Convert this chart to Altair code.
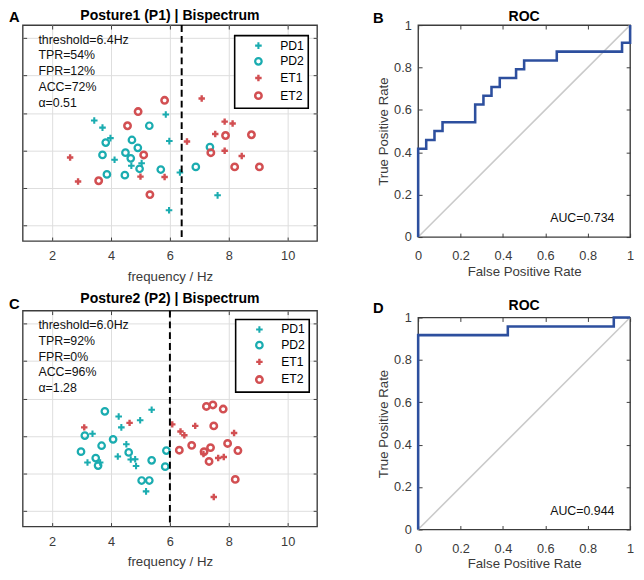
import altair as alt
import pandas as pd

FONT = "Liberation Sans"
TEAL = "#1aacb0"
RED = "#d24f52"
BLUE = "#2d4f9e"
PLUS = "M-1,0L1,0M0,-1L0,1"

groups = ["PD1", "PD2", "ET1", "ET2"]
group_colors = [TEAL, TEAL, RED, RED]
group_shapes = [PLUS, "circle", PLUS, "circle"]
group_sizes = [45, 42, 45, 42]
group_strokes = [2.1, 2.6, 2.1, 2.6]

x_ticks = [2, 4, 6, 8, 10]
y_ticks = [1, 2, 3, 4, 5, 6]
roc_ticks = [0, 0.2, 0.4, 0.6, 0.8, 1]
diag_vals = [0, 1]

# ---------- Panel A : Posture1 ----------
a_pd1_x = [3.43, 3.71, 3.98, 4.12, 4.69, 5.04, 5.86, 5.98, 6.34, 5.97, 7.62]
a_pd1_y = [3.80, 3.61, 3.33, 2.75, 2.59, 2.66, 3.96, 3.25, 2.41, 1.40, 1.80]
a_pd2_x = [5.30, 3.82, 4.71, 4.91, 3.71, 4.49, 4.67, 4.97, 5.69, 3.86, 4.47, 6.88, 7.36]
a_pd2_y = [3.66, 3.21, 3.28, 3.07, 2.88, 2.94, 2.79, 2.51, 2.49, 2.36, 2.34, 2.56, 3.09]
a_et1_x = [7.08, 2.61, 2.88, 5.00, 5.82, 6.58, 7.54, 7.86, 8.13, 7.86, 8.44]
a_et1_y = [4.39, 2.81, 2.17, 2.30, 2.29, 3.24, 3.44, 3.77, 3.72, 2.99, 2.85]
a_et2_x = [5.82, 4.92, 4.56, 5.11, 3.58, 5.32, 7.89, 7.39, 8.77, 8.20, 9.04]
a_et2_y = [4.34, 4.04, 3.66, 2.88, 2.19, 1.82, 3.40, 2.94, 3.42, 2.56, 2.56]
a_threshold = 6.4
a_stats = ["threshold=6.4Hz", "TPR=54%", "FPR=12%", "ACC=72%", "\u03b1=0.51"]

# ---------- Panel C : Posture2 ----------
c_pd1_x = [5.38, 4.26, 4.99, 4.35, 3.37, 4.52, 4.23, 4.67, 4.82, 4.85, 3.20, 3.63, 5.19]
c_pd1_y = [3.70, 3.52, 3.42, 3.23, 3.06, 2.78, 2.45, 2.37, 2.38, 2.20, 2.29, 2.29, 1.52]
c_pd2_x = [3.79, 3.11, 4.07, 3.68, 2.98, 3.48, 3.56, 4.60, 5.38, 5.88, 5.84, 5.04, 5.30]
c_pd2_y = [3.66, 3.01, 2.91, 2.74, 2.58, 2.41, 2.21, 2.56, 2.35, 2.61, 2.18, 1.81, 1.81]
c_et1_x = [3.09, 4.63, 6.08, 6.36, 6.49, 6.86, 8.18, 7.14, 7.64, 7.83, 7.49]
c_et1_y = [3.23, 3.35, 3.31, 3.12, 3.02, 3.27, 3.08, 2.52, 2.41, 2.44, 1.37]
c_et2_x = [7.24, 7.46, 7.81, 7.49, 6.74, 6.32, 7.16, 7.38, 7.96, 8.31, 7.33, 8.22]
c_et2_y = [3.79, 3.83, 3.72, 3.27, 2.75, 2.62, 2.58, 2.69, 2.80, 2.61, 2.32, 1.84]
c_threshold = 6.0
c_stats = ["threshold=6.0Hz", "TPR=92%", "FPR=0%", "ACC=96%", "\u03b1=1.28"]

# ---------- ROC curves ----------
b_fpr = [0, 0, 0.038, 0.077, 0.115, 0.269, 0.308, 0.346, 0.385, 0.462, 0.5, 0.654, 0.962, 1.0]
b_tpr = [0, 0.417, 0.458, 0.5, 0.542, 0.625, 0.667, 0.708, 0.75, 0.792, 0.833, 0.875, 0.917, 1.0]
b_auc = "AUC=0.734"
d_fpr = [0, 0, 0.423, 0.923, 1.0]
d_tpr = [0, 0.917, 0.958, 1.0, 1.0]
d_auc = "AUC=0.944"


def scatter_df(series):
    rows = []
    for g, xs, ys in series:
        for xv, yv in zip(xs, ys):
            rows.append({"group": g, "freq": xv, "jit": yv})
    return pd.DataFrame(rows)


def legend_obj(lx, ly):
    return alt.Legend(title=None, orient="none", legendX=lx, legendY=ly,
                      fillColor="white", strokeColor="black", padding=4,
                      symbolSize=45, symbolStrokeWidth=2.3, symbolOffset=14,
                      labelOffset=16, labelFont=FONT, labelFontSize=12.4,
                      labelColor="black", rowPadding=0)


def inner_axis(orient, vals):
    return alt.Axis(orient=orient, values=vals, labels=False, grid=False, title=None,
                    offset=-4, tickSize=4, minExtent=0, maxExtent=0)


def letter_layer(letter, lx, ly):
    return alt.Chart(pd.DataFrame({"t": [letter]})).mark_text(
        align="left", baseline="middle", fontSize=15, fontWeight="bold", font=FONT, color="black"
    ).encode(x=alt.value(lx), y=alt.value(ly), text="t:N")


def scatter_panel(df, thr, stats, title, letter, lx, ly, t_off, let_y):
    xs = alt.Scale(domain=[1, 11], nice=False, zero=False)
    ys = alt.Scale(domain=[0.58, 6.35], nice=False, zero=False)
    pts = alt.Chart(df).mark_point(filled=False, opacity=1).encode(
        x=alt.X("freq:Q", scale=xs,
                axis=alt.Axis(values=x_ticks, grid=True, title="frequency / Hz",
                              offset=-4, tickSize=4, labelPadding=9, titlePadding=7,
                              labelFlush=False)),
        y=alt.Y("jit:Q", scale=ys,
                axis=alt.Axis(values=y_ticks, grid=True, labels=False, title=None,
                              offset=-4, tickSize=4, minExtent=0, maxExtent=0)),
        color=alt.Color("group:N", scale=alt.Scale(domain=groups, range=group_colors),
                        legend=legend_obj(lx, ly)),
        shape=alt.Shape("group:N", scale=alt.Scale(domain=groups, range=group_shapes),
                        legend=legend_obj(lx, ly)),
        size=alt.Size("group:O", scale=alt.Scale(domain=groups, range=group_sizes),
                      legend=None),
        strokeWidth=alt.StrokeWidth("group:O", scale=alt.Scale(domain=groups, range=group_strokes),
                                    legend=None),
    )
    rule = alt.Chart(pd.DataFrame({"thr": [thr]})).mark_rule(
        color="black", strokeWidth=2, strokeDash=[7, 4]
    ).encode(x=alt.X("thr:Q", scale=xs, axis=None))
    txt = alt.Chart(pd.DataFrame({"t": ["\n".join(stats)]})).mark_text(
        align="left", baseline="top", lineBreak="\n", lineHeight=16,
        fontSize=12.6, font=FONT, color="#111111"
    ).encode(x=alt.value(16), y=alt.value(9), text="t:N")
    lab = letter_layer(letter, -14, let_y)
    ax2 = alt.Chart(df).mark_point(opacity=0).encode(
        x=alt.X("freq:Q", scale=xs, axis=inner_axis("top", x_ticks)),
        y=alt.Y("jit:Q", scale=ys, axis=inner_axis("right", y_ticks)),
    )
    return alt.layer(pts, rule, txt, lab, ax2).resolve_axis(
        x="independent", y="independent"
    ).properties(
        width=300, height=220,
        title=alt.Title(title, fontSize=14.3, fontWeight="bold", font=FONT,
                        offset=t_off, color="black", frame="group"),
    )


def roc_panel(fpr, tpr, auc, letter, let_y):
    sx = alt.Scale(domain=[0, 1], nice=False, zero=False)
    sy = alt.Scale(domain=[0, 1], nice=False, zero=False)
    df = pd.DataFrame({"fpr": fpr, "tpr": tpr, "i": list(range(len(fpr)))})
    diag = alt.Chart(pd.DataFrame({"a": diag_vals, "b": diag_vals})).mark_line(
        color="#cacaca", strokeWidth=1.6
    ).encode(x=alt.X("a:Q", scale=sx, axis=None), y=alt.Y("b:Q", scale=sy, axis=None))
    curve = alt.Chart(df).mark_line(color=BLUE, strokeWidth=2.6, interpolate="step-after").encode(
        x=alt.X("fpr:Q", scale=sx,
                axis=alt.Axis(values=roc_ticks, format="~g", grid=False,
                              title="False Positive Rate", offset=-4, tickSize=4,
                              labelPadding=13, titlePadding=2, labelFlush=False)),
        y=alt.Y("tpr:Q", scale=sy,
                axis=alt.Axis(values=roc_ticks, format="~g", grid=False,
                              title="True Positive Rate", offset=-4, tickSize=4,
                              labelPadding=7, titlePadding=3, labelFlush=False)),
        order="i:Q",
    )
    auc_t = alt.Chart(pd.DataFrame({"t": [auc]})).mark_text(
        align="right", baseline="middle", fontSize=12.6, font=FONT, color="#111111"
    ).encode(x=alt.value(200), y=alt.value(197), text="t:N")
    lab = letter_layer(letter, -46, let_y)
    ax2 = alt.Chart(df).mark_point(opacity=0).encode(
        x=alt.X("fpr:Q", scale=sx, axis=inner_axis("top", roc_ticks)),
        y=alt.Y("tpr:Q", scale=sy, axis=inner_axis("right", roc_ticks)),
    )
    return alt.layer(diag, curve, auc_t, lab, ax2).resolve_axis(
        x="independent", y="independent"
    ).properties(
        width=216, height=216,
        title=alt.Title("ROC", fontSize=14.3, fontWeight="bold", font=FONT,
                        offset=-13, color="black", frame="group"),
    )


df_a = scatter_df([("PD1", a_pd1_x, a_pd1_y), ("PD2", a_pd2_x, a_pd2_y),
                   ("ET1", a_et1_x, a_et1_y), ("ET2", a_et2_x, a_et2_y)])
df_c = scatter_df([("PD1", c_pd1_x, c_pd1_y), ("PD2", c_pd2_x, c_pd2_y),
                   ("ET1", c_et1_x, c_et1_y), ("ET2", c_et2_x, c_et2_y)])

panel_a = scatter_panel(df_a, a_threshold, a_stats, "Posture1 (P1) | Bispectrum", "A",
                        216, 10.7, -13, -8)
panel_c = scatter_panel(df_c, c_threshold, c_stats, "Posture2 (P2) | Bispectrum", "C",
                        217, 9, -9, -7)
panel_b = roc_panel(b_fpr, b_tpr, b_auc, "B", -7)
panel_d = roc_panel(d_fpr, d_tpr, d_auc, "D", -10)

indep = dict(color="independent", shape="independent", size="independent",
             strokeWidth="independent")
col1 = alt.vconcat(panel_a, panel_c, spacing=7).resolve_scale(**indep)
col2 = alt.vconcat(panel_b, panel_d, spacing=20).resolve_scale(**indep)

chart = alt.hconcat(col1, col2, spacing=54).resolve_scale(**indep).properties(
    padding={"left": 0, "top": -5, "right": 0, "bottom": 0}
).configure_view(
    stroke="#3c3c3c", strokeWidth=1.4
).configure_axis(
    labelFont=FONT, titleFont=FONT, labelFontSize=13, titleFontSize=13.5,
    labelColor="#3a3a3a", titleColor="#3a3a3a", tickColor="#3c3c3c",
    tickWidth=1, domain=False, gridColor="#dddddd", gridWidth=1,
    titleFontWeight="normal"
).configure_legend(strokeWidth=1.6)

chart.save("out.html", embed_options={"renderer": "svg", "actions": False})
